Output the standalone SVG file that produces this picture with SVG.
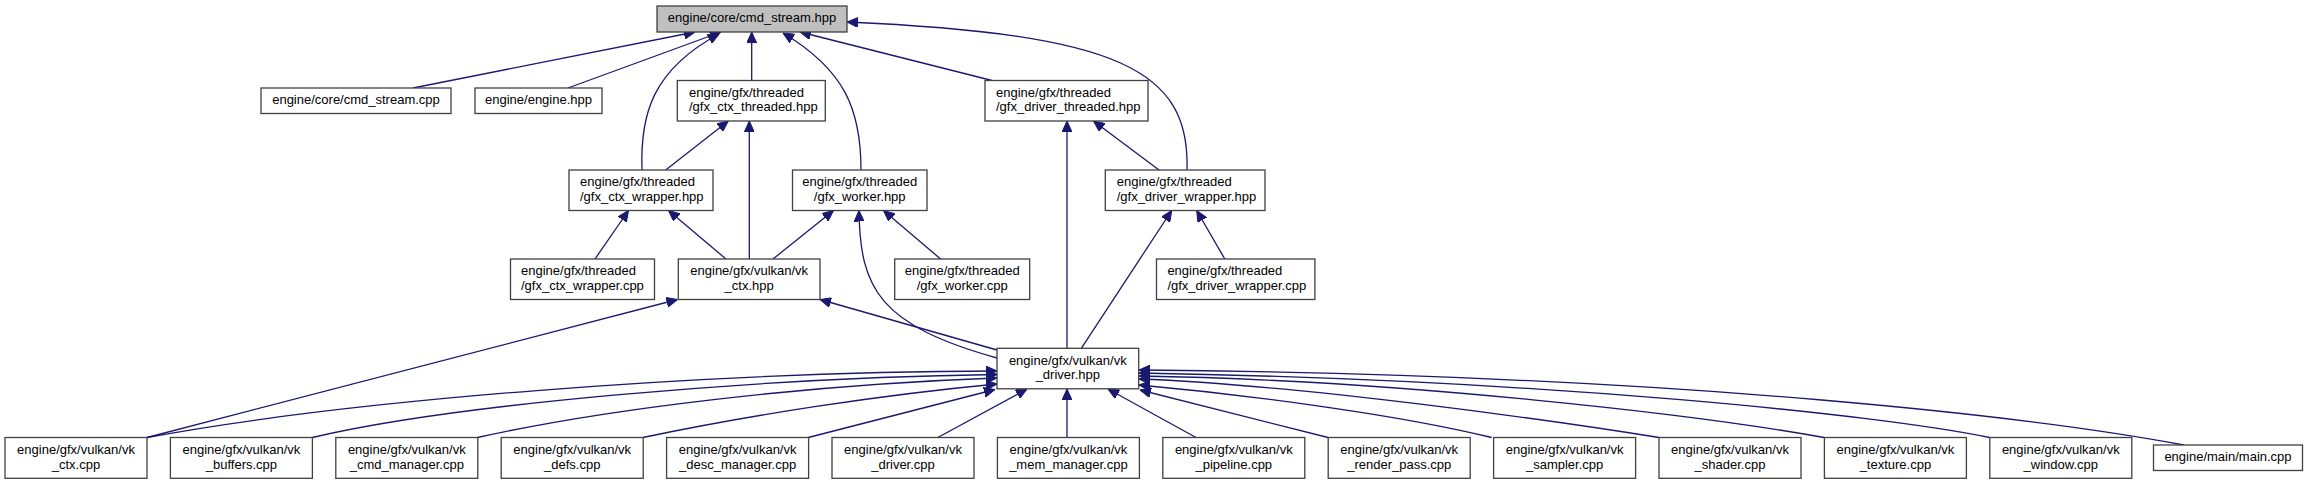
<svg xmlns="http://www.w3.org/2000/svg" width="2307" height="484" viewBox="0 0 2307 484">
<style>
.n rect{fill:#ffffff;stroke:#404040;stroke-width:1.3}
.n.root rect{fill:#bfbfbf}
.n text{font-family:"Liberation Sans",Arial,sans-serif;font-size:13px;fill:#000000}
.c{text-anchor:middle}
.e path{fill:none;stroke:#191970;stroke-width:1.3;marker-end:url(#ah)}
</style>
<defs>
<marker id="ah" markerWidth="11" markerHeight="10" refX="11" refY="5" orient="auto" markerUnits="userSpaceOnUse" viewBox="0 0 11 10"><path d="M0,0 L11,5 L0,10 z" fill="#191970" stroke="#191970" stroke-width="1"/></marker>
</defs>
<rect width="2307" height="484" fill="#ffffff"/>
<g id="edges" class="e">
<path d="M413,88 L695,32"/>
<path d="M568,88 L721,32"/>
<path d="M642,170 C640,115 652,70 719,34"/>
<path d="M751.7,80.5 L751.7,32"/>
<path d="M861,170 C861,110 845,70 783,33"/>
<path d="M992,80.5 L800,32"/>
<path d="M1187,170 C1190,70 1120,34 847,22"/>
<path d="M665.7,170 L728.3,121"/>
<path d="M749.3,259 L749.3,121"/>
<path d="M595,259 L628.5,210.5"/>
<path d="M726,259 L668.5,210.5"/>
<path d="M773,259 L833.5,210.5"/>
<path d="M997,358 C880,325 860,290 859,210.5"/>
<path d="M940.6,259 L883.5,210.5"/>
<path d="M1067,348.3 L1067,121"/>
<path d="M1159,170 L1093.5,121"/>
<path d="M1081.3,348.3 L1171.7,210.5"/>
<path d="M1224.8,259 L1196.7,210.5"/>
<path d="M147,437.5 L677.5,299.5"/>
<path d="M997,350 L820,299.5"/>
<path d="M147,437.5 C350,400 700,372 997,371"/>
<path d="M312.3,437.5 C450,405 750,378 997,374.5"/>
<path d="M477.6,437.5 C600,410 800,385 997,378"/>
<path d="M643,437.5 C750,415 880,395 997,384"/>
<path d="M808.3,437.5 L995,389.5"/>
<path d="M937.8,437.5 L1027,389"/>
<path d="M1067,437.5 L1067,389"/>
<path d="M1196,437.5 L1108,389"/>
<path d="M1328,437.5 L1140,390"/>
<path d="M1491.7,437.5 C1400,415 1250,395 1139,385"/>
<path d="M1659,437.5 C1550,420 1300,385 1139,379"/>
<path d="M1824,437.5 C1700,415 1400,380 1139,376"/>
<path d="M1989.5,437.5 C1880,415 1550,380 1139,373"/>
<path d="M2184,445 C2050,420 1700,375 1139,370"/>
</g>
<g id="n_cmd_stream_hpp" class="n root"><rect x="657" y="6" width="190" height="26"/><text class="c" x="752" y="22.3">engine/core/cmd_stream.hpp</text></g>
<g id="n_cmd_stream_cpp" class="n"><rect x="261" y="88" width="190" height="25.5"/><text class="c" x="356" y="104.3">engine/core/cmd_stream.cpp</text></g>
<g id="n_engine_hpp" class="n"><rect x="475" y="88" width="127" height="25.5"/><text class="c" x="538.5" y="104.3">engine/engine.hpp</text></g>
<g id="n_gfx_ctx_threaded_hpp" class="n"><rect x="677.3" y="80.5" width="148" height="40.5"/><text x="689" y="96.7">engine/gfx/threaded</text><text x="689" y="111.4">/gfx_ctx_threaded.hpp</text></g>
<g id="n_gfx_driver_threaded_hpp" class="n"><rect x="985" y="80.5" width="163" height="40.5"/><text x="996" y="96.7">engine/gfx/threaded</text><text x="996" y="111.4">/gfx_driver_threaded.hpp</text></g>
<g id="n_gfx_ctx_wrapper_hpp" class="n"><rect x="569" y="170" width="144" height="40.5"/><text x="580" y="186.2">engine/gfx/threaded</text><text x="580" y="200.9">/gfx_ctx_wrapper.hpp</text></g>
<g id="n_gfx_worker_hpp" class="n"><rect x="792.5" y="170" width="134.5" height="40.5"/><text class="c" x="859.7" y="186.2">engine/gfx/threaded</text><text class="c" x="859.7" y="200.9">/gfx_worker.hpp</text></g>
<g id="n_gfx_driver_wrapper_hpp" class="n"><rect x="1105.3" y="170" width="159.7" height="40.5"/><text x="1116.7" y="186.2">engine/gfx/threaded</text><text x="1116.7" y="200.9">/gfx_driver_wrapper.hpp</text></g>
<g id="n_gfx_ctx_wrapper_cpp" class="n"><rect x="510.5" y="259" width="144" height="40.5"/><text x="521" y="275.2">engine/gfx/threaded</text><text x="521" y="289.9">/gfx_ctx_wrapper.cpp</text></g>
<g id="n_vk_ctx_hpp" class="n"><rect x="678.3" y="259" width="141.7" height="40.5"/><text class="c" x="749.2" y="275.2">engine/gfx/vulkan/vk</text><text class="c" x="749.2" y="289.9">_ctx.hpp</text></g>
<g id="n_gfx_worker_cpp" class="n"><rect x="894.7" y="259" width="135" height="40.5"/><text class="c" x="962.2" y="275.2">engine/gfx/threaded</text><text class="c" x="962.2" y="289.9">/gfx_worker.cpp</text></g>
<g id="n_gfx_driver_wrapper_cpp" class="n"><rect x="1156.5" y="259" width="158.4" height="40.5"/><text x="1167.4" y="275.2">engine/gfx/threaded</text><text x="1167.4" y="289.9">/gfx_driver_wrapper.cpp</text></g>
<g id="n_vk_driver_hpp" class="n"><rect x="997" y="348.3" width="141.7" height="40.5"/><text class="c" x="1067.8" y="364.5">engine/gfx/vulkan/vk</text><text class="c" x="1067.8" y="379.2">_driver.hpp</text></g>
<g id="n_vk_ctx_cpp" class="n"><rect x="5" y="437.5" width="142" height="40.8"/><text class="c" x="76" y="453.8">engine/gfx/vulkan/vk</text><text class="c" x="76" y="468.5">_ctx.cpp</text></g>
<g id="n_vk_buffers_cpp" class="n"><rect x="170.4" y="437.5" width="142" height="40.8"/><text class="c" x="241.4" y="453.8">engine/gfx/vulkan/vk</text><text class="c" x="241.4" y="468.5">_buffers.cpp</text></g>
<g id="n_vk_cmd_manager_cpp" class="n"><rect x="335.8" y="437.5" width="142" height="40.8"/><text class="c" x="406.8" y="453.8">engine/gfx/vulkan/vk</text><text class="c" x="406.8" y="468.5">_cmd_manager.cpp</text></g>
<g id="n_vk_defs_cpp" class="n"><rect x="501.2" y="437.5" width="142" height="40.8"/><text class="c" x="572.2" y="453.8">engine/gfx/vulkan/vk</text><text class="c" x="572.2" y="468.5">_defs.cpp</text></g>
<g id="n_vk_desc_manager_cpp" class="n"><rect x="666.6" y="437.5" width="142" height="40.8"/><text class="c" x="737.6" y="453.8">engine/gfx/vulkan/vk</text><text class="c" x="737.6" y="468.5">_desc_manager.cpp</text></g>
<g id="n_vk_driver_cpp" class="n"><rect x="832" y="437.5" width="142" height="40.8"/><text class="c" x="903" y="453.8">engine/gfx/vulkan/vk</text><text class="c" x="903" y="468.5">_driver.cpp</text></g>
<g id="n_vk_mem_manager_cpp" class="n"><rect x="997.4" y="437.5" width="142" height="40.8"/><text class="c" x="1068.4" y="453.8">engine/gfx/vulkan/vk</text><text class="c" x="1068.4" y="468.5">_mem_manager.cpp</text></g>
<g id="n_vk_pipeline_cpp" class="n"><rect x="1162.8" y="437.5" width="142" height="40.8"/><text class="c" x="1233.8" y="453.8">engine/gfx/vulkan/vk</text><text class="c" x="1233.8" y="468.5">_pipeline.cpp</text></g>
<g id="n_vk_render_pass_cpp" class="n"><rect x="1328.2" y="437.5" width="142" height="40.8"/><text class="c" x="1399.2" y="453.8">engine/gfx/vulkan/vk</text><text class="c" x="1399.2" y="468.5">_render_pass.cpp</text></g>
<g id="n_vk_sampler_cpp" class="n"><rect x="1493.6" y="437.5" width="142" height="40.8"/><text class="c" x="1564.6" y="453.8">engine/gfx/vulkan/vk</text><text class="c" x="1564.6" y="468.5">_sampler.cpp</text></g>
<g id="n_vk_shader_cpp" class="n"><rect x="1659" y="437.5" width="142" height="40.8"/><text class="c" x="1730" y="453.8">engine/gfx/vulkan/vk</text><text class="c" x="1730" y="468.5">_shader.cpp</text></g>
<g id="n_vk_texture_cpp" class="n"><rect x="1824.4" y="437.5" width="142" height="40.8"/><text class="c" x="1895.4" y="453.8">engine/gfx/vulkan/vk</text><text class="c" x="1895.4" y="468.5">_texture.cpp</text></g>
<g id="n_vk_window_cpp" class="n"><rect x="1989.8" y="437.5" width="142" height="40.8"/><text class="c" x="2060.8" y="453.8">engine/gfx/vulkan/vk</text><text class="c" x="2060.8" y="468.5">_window.cpp</text></g>
<g id="n_main_cpp" class="n"><rect x="2153.5" y="445" width="149" height="25.5"/><text class="c" x="2228" y="461.3">engine/main/main.cpp</text></g>
</svg>
